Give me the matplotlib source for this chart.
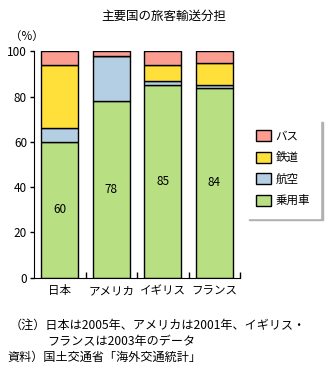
import numpy as np
import matplotlib
matplotlib.use("Agg")
import matplotlib.pyplot as plt

plt.rcParams['font.family'] = ['Noto Sans CJK JP', 'DejaVu Sans']

countries = ["日本", "アメリカ", "イギリス", "フランス"]
modes = ["乗用車", "航空", "鉄道", "バス"]
colors = ["#b8df82", "#b4cee3", "#ffdf3a", "#fb9d90"]

car = [60, 78, 85, 84]
air = [6, 20, 2, 1]
rail = [28, 0, 7, 10]
bus = [6, 2, 6, 5]
series = [car, air, rail, bus]

fig = plt.figure(figsize=(3.31, 3.68), dpi=100)
ax = fig.add_axes([34 / 331, 1 - 277.7 / 368, 206 / 331, 226.4 / 368])

x = np.arange(len(countries))
bottom = np.zeros(len(countries))
handles = []
for vals, name, c in zip(series, modes, colors):
    h = ax.bar(x, vals, width=0.72, bottom=bottom, color=c,
               edgecolor="black", linewidth=1.0, label=name)
    handles.append(h)
    bottom += np.array(vals)

# value labels in the middle of the car segment
for xi, v in zip(x, car):
    ax.text(xi, v / 2, str(v), ha="center", va="center", fontsize=8.5)

ax.set_xlim(-0.5, 3.5)
ax.set_ylim(0, 100)
ax.spines["top"].set_visible(False)
ax.spines["right"].set_visible(False)
ax.set_yticks([0, 20, 40, 60, 80, 100])
ax.tick_params(axis="y", direction="out", length=3, width=1, labelsize=8.5, pad=2)
ax.set_xticks(np.arange(0.5, 4, 1))
ax.set_xticklabels([])
ax.tick_params(axis="x", direction="in", length=4, width=1)
for xi, name in zip(x, countries):
    ax.text(xi, -3, name, ha="center", va="top", fontsize=8.3,
            transform=ax.transData, clip_on=False)

fig.text(10 / 331, 1 - 36 / 368, "（%）", fontsize=8.3, va="center")
fig.text(164 / 331, 1 - 16 / 368, "主要国の旅客輸送分担", ha="center",
         va="center", fontsize=9)

leg = ax.legend(handles[::-1], modes[::-1], loc="upper left",
                bbox_to_anchor=(246 / 331, 1 - 119 / 368),
                bbox_transform=fig.transFigure, borderaxespad=0,
                fontsize=8.3, handlelength=1.25, handleheight=1.1,
                labelspacing=0.75, handletextpad=0.4, borderpad=0.9,
                frameon=True, fancybox=False,
                shadow={"color": "#b0b0b0", "alpha": 1.0})
leg.get_frame().set_edgecolor("white")
leg.get_frame().set_facecolor("white")
leg.get_frame().set_alpha(1.0)

fig.text(10 / 331, 1 - 325 / 368, "（注）日本は2005年、アメリカは2001年、イギリス・",
         fontsize=8.7, va="center")
fig.text(47 / 331, 1 - 341 / 368, "フランスは2003年のデータ",
         fontsize=8.7, va="center")
fig.text(8 / 331, 1 - 357 / 368, "資料）国土交通省「海外交通統計」",
         fontsize=8.7, va="center")

fig.savefig("out.png", dpi=100)
